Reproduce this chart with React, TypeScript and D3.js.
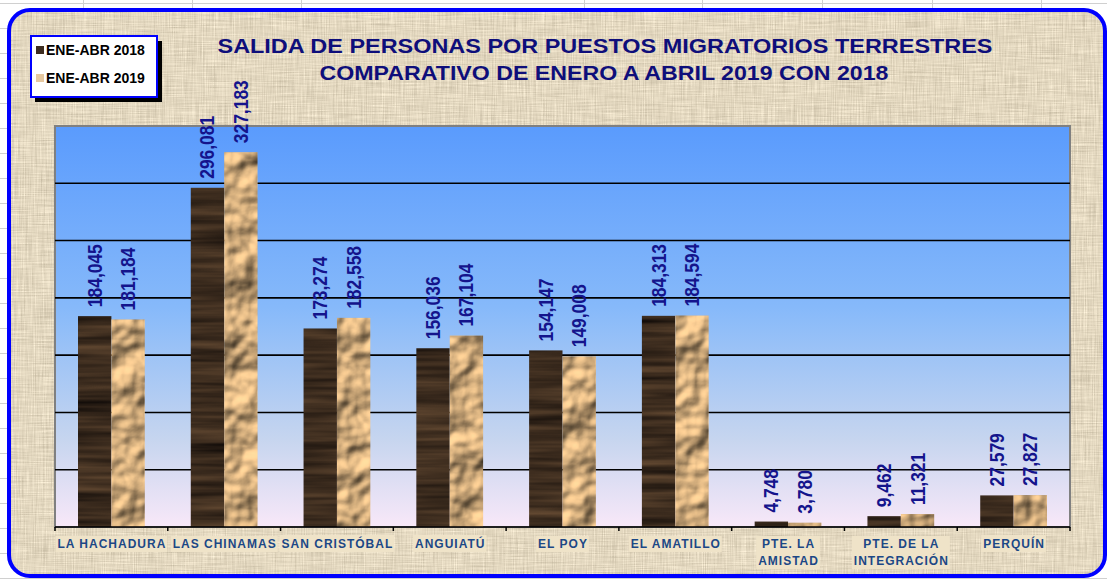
import * as d3 from "d3";
import React, { useEffect, useRef } from "react";

const categories = [
  ["LA HACHADURA"],
  ["LAS CHINAMAS"],
  ["SAN CRISTÓBAL"],
  ["ANGUIATÚ"],
  ["EL POY"],
  ["EL AMATILLO"],
  ["PTE. LA", "AMISTAD"],
  ["PTE. DE LA", "INTEGRACIÓN"],
  ["PERQUÍN"],
];
const seriesNames = ["ENE-ABR 2018", "ENE-ABR 2019"];
const values2018 = [184045, 296081, 173274, 156036, 154147, 184313, 4748, 9462, 27579];
const values2019 = [181184, 327183, 182558, 167104, 149008, 184594, 3780, 11321, 27827];
const gridTicks = [50000, 100000, 150000, 200000, 250000, 300000];
const titleLines = [
  "SALIDA DE PERSONAS POR PUESTOS MIGRATORIOS  TERRESTRES",
  "COMPARATIVO DE ENERO A ABRIL 2019 CON 2018",
];

const W = 1107;
const H = 579;
const FONT = "'Liberation Sans', Arial, sans-serif";

const App = () => {
  const ref = useRef<SVGSVGElement>(null);

  useEffect(() => {
    const svg = d3.select(ref.current);
    svg.selectAll("*").remove();

    const plot = { left: 55, right: 1070, top: 126, bottom: 527 };

    const defs = svg.append("defs");
    const mkFilter = (id: string) =>
      defs.append("filter").attr("id", id)
        .attr("x", 0).attr("y", 0).attr("width", "100%").attr("height", "100%")
        .attr("color-interpolation-filters", "sRGB");

    // linen background texture
    const linen = mkFilter("linen");
    linen.append("feTurbulence").attr("type", "fractalNoise")
      .attr("baseFrequency", "0.9 0.03").attr("numOctaves", 2).attr("seed", 4).attr("result", "v");
    linen.append("feTurbulence").attr("type", "fractalNoise")
      .attr("baseFrequency", "0.03 0.9").attr("numOctaves", 2).attr("seed", 9).attr("result", "h");
    linen.append("feComposite").attr("in", "v").attr("in2", "h")
      .attr("operator", "arithmetic").attr("k2", 0.5).attr("k3", 0.5).attr("result", "m");
    linen.append("feColorMatrix").attr("in", "m").attr("type", "matrix")
      .attr("values", "0.36 0 0 0 0.71  0.36 0 0 0 0.665  0.36 0 0 0 0.57  0 0 0 0 1").attr("result", "c");
    linen.append("feComposite").attr("in", "c").attr("in2", "SourceGraphic").attr("operator", "in");

    // dark wood
    const wood = mkFilter("wood");
    wood.append("feTurbulence").attr("type", "fractalNoise")
      .attr("baseFrequency", "0.006 0.12").attr("numOctaves", 3).attr("seed", 2).attr("result", "n");
    wood.append("feColorMatrix").attr("in", "n").attr("type", "matrix")
      .attr("values", "0.4 0 0 0 0.04  0.3 0 0 0 0.025  0.2 0 0 0 0.02  0 0 0 0 1").attr("result", "c");
    wood.append("feComposite").attr("in", "c").attr("in2", "SourceGraphic").attr("operator", "in");

    // crumpled tan stone
    const stone = mkFilter("stone");
    stone.append("feTurbulence").attr("type", "fractalNoise")
      .attr("baseFrequency", "0.028").attr("numOctaves", 3).attr("seed", 7).attr("result", "n");
    const light = stone.append("feDiffuseLighting").attr("in", "n")
      .attr("surfaceScale", 8).attr("diffuseConstant", 1.1)
      .attr("lighting-color", "#f7cb92").attr("result", "l");
    light.append("feDistantLight").attr("azimuth", 235).attr("elevation", 50);
    stone.append("feComposite").attr("in", "l").attr("in2", "SourceGraphic").attr("operator", "in");

    const grad = defs.append("linearGradient").attr("id", "plotbg")
      .attr("x1", 0).attr("y1", 0).attr("x2", 0).attr("y2", 1);
    [
      [0, "#5a9bfd"],
      [0.45, "#86b9fa"],
      [0.78, "#c6d5ef"],
      [1, "#f8e8f8"],
    ].forEach(([o, c]) => grad.append("stop").attr("offset", o).attr("stop-color", c));

    // excel sheet behind
    svg.append("rect").attr("width", W).attr("height", H).attr("fill", "#ffffff");
    const sheet = svg.append("g").attr("stroke", "#d0d0d0").attr("stroke-width", 1);
    [83, 192, 301, 584, 702, 822, 932, 1041].forEach((x) =>
      sheet.append("line").attr("x1", x + 0.5).attr("x2", x + 0.5).attr("y1", 0).attr("y2", H));
    d3.range(3, H, 25).forEach((y) =>
      sheet.append("line").attr("x1", 0).attr("x2", W).attr("y1", y + 0.5).attr("y2", y + 0.5));

    // chart area
    svg.append("rect").attr("x", 9).attr("y", 10).attr("width", 1096).attr("height", 566)
      .attr("rx", 21).attr("fill", "#000").attr("filter", "url(#linen)");
    svg.append("rect").attr("x", 9).attr("y", 10).attr("width", 1096).attr("height", 566)
      .attr("rx", 21).attr("fill", "none").attr("stroke", "#0000ff").attr("stroke-width", 4);

    // title
    const title = svg.append("g").attr("font-family", FONT).attr("font-weight", "bold")
      .attr("font-size", 20).attr("fill", "#0e0e7a").attr("text-anchor", "middle");
    title.append("text").attr("x", 605).attr("y", 53)
      .attr("textLength", 775).attr("lengthAdjust", "spacingAndGlyphs").text(titleLines[0]);
    title.append("text").attr("x", 604).attr("y", 80)
      .attr("textLength", 569).attr("lengthAdjust", "spacingAndGlyphs").text(titleLines[1]);

    // legend
    const legend = svg.append("g");
    legend.append("rect").attr("x", 35).attr("y", 41).attr("width", 127).attr("height", 61).attr("fill", "#000");
    legend.append("rect").attr("x", 31).attr("y", 36).attr("width", 126).attr("height", 61)
      .attr("fill", "#fff").attr("stroke", "#0000ff").attr("stroke-width", 2);
    const legendColors = ["#3e2d20", "#e6c8a0"];
    seriesNames.forEach((name, i) => {
      const y = 55 + i * 28;
      legend.append("rect").attr("x", 36).attr("y", y - 9).attr("width", 8).attr("height", 8)
        .attr("fill", legendColors[i]);
      legend.append("text").attr("x", 46).attr("y", y).attr("font-family", FONT)
        .attr("font-weight", "bold").attr("font-size", 14).attr("fill", "#000").text(name);
    });

    // scales
    const x0 = d3.scaleBand<number>().domain(d3.range(categories.length))
      .range([plot.left, plot.right]).padding(0);
    const x1 = d3.scaleBand<number>().domain([0, 1])
      .range([23, x0.bandwidth() - 23]).padding(0);
    const y = d3.scaleLinear().domain([0, 350000]).range([plot.bottom, plot.top]);

    // plot area
    svg.append("rect").attr("x", plot.left).attr("y", plot.top)
      .attr("width", plot.right - plot.left).attr("height", plot.bottom - plot.top)
      .attr("fill", "url(#plotbg)").attr("stroke", "#808080").attr("stroke-width", 2);

    svg.append("g").selectAll("line").data(gridTicks).join("line")
      .attr("x1", plot.left).attr("x2", plot.right)
      .attr("y1", (d) => y(d)).attr("y2", (d) => y(d))
      .attr("stroke", "#000").attr("stroke-width", 1.6);

    // bars
    const series = [values2018, values2019];
    const filters = ["url(#wood)", "url(#stone)"];
    series.forEach((vals, s) => {
      svg.append("g").selectAll("rect").data(vals).join("rect")
        .attr("x", (_, i) => (x0(i) as number) + (x1(s) as number))
        .attr("y", (d) => y(d))
        .attr("width", x1.bandwidth())
        .attr("height", (d) => y(0) - y(d))
        .attr("fill", "#000")
        .attr("filter", filters[s]);
    });

    // axis
    svg.append("line").attr("x1", plot.left).attr("x2", plot.right)
      .attr("y1", plot.bottom).attr("y2", plot.bottom).attr("stroke", "#000").attr("stroke-width", 1.5);
    svg.append("g").selectAll("line").data(d3.range(categories.length + 1)).join("line")
      .attr("x1", (i) => plot.left + i * x0.step()).attr("x2", (i) => plot.left + i * x0.step())
      .attr("y1", plot.bottom).attr("y2", plot.bottom + 4)
      .attr("stroke", "#000").attr("stroke-width", 1.5);

    // value labels
    const fmt = d3.format(",");
    series.forEach((vals, s) => {
      svg.append("g").selectAll("text").data(vals).join("text")
        .attr("transform", (d, i) => {
          const cx = (x0(i) as number) + (x1(s) as number) + x1.bandwidth() / 2 + 7;
          return `translate(${cx},${y(d) - 9}) rotate(-90) scale(0.87,1)`;
        })
        .attr("font-family", FONT).attr("font-weight", "bold").attr("font-size", 20)
        .attr("fill", "#14148c")
        .text((d) => fmt(d));
    });

    // category labels
    const catG = svg.append("g");
    categories.forEach((lines, i) => {
      const cx = (x0(i) as number) + x0.bandwidth() / 2;
      const g = catG.append("g");
      const bg = g.append("rect").attr("fill", "#efe3c8");
      const t = g.append("text").attr("font-family", FONT).attr("font-weight", "bold")
        .attr("font-size", 12).attr("letter-spacing", 1).attr("fill", "#1c4886")
        .attr("text-anchor", "middle");
      lines.forEach((ln, k) => {
        t.append("tspan").attr("x", cx + 0.5).attr("y", 548 + k * 17).text(ln);
      });
      const bb = (t.node() as SVGTextElement).getBBox();
      bg.attr("x", bb.x - 2).attr("y", bb.y - 1).attr("width", bb.width + 3).attr("height", bb.height + 2);
    });
  }, []);

  return (
    <svg
      ref={ref}
      width={W}
      height={H}
      style={{ position: "absolute", left: 0, top: 0, display: "block" }}
    />
  );
};

export default App;
